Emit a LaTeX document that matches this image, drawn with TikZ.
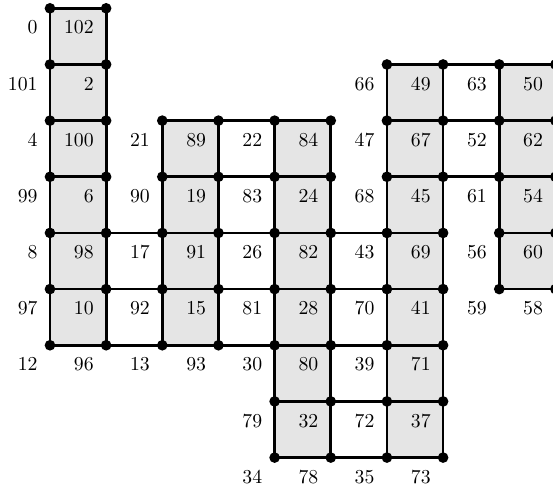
\documentclass[tikz,border=0pt]{standalone}
\begin{document}
\begin{tikzpicture}[x=1cm,y=-1cm,
  cellfill/.style={fill=black!10},
  edge/.style={line width=1.4pt},
  vdot/.style={circle,fill=black,inner sep=0pt,minimum size=5.4pt},
  lab/.style={anchor=base east,inner sep=0pt,font=\fontsize{10}{12}\selectfont}]
\clip (-0.890,-0.148) rectangle (8.957,8.577);
% vertices
\foreach \i in {0,...,9}{\foreach \j in {0,...,8}{\coordinate (v-\i-\j) at (\i,\j);}}
% shaded strips: column/first row/last row
\foreach \c/\a/\b in {0/0/5,2/2/5,4/2/7,6/1/7,8/1/4}{
  \pgfmathtruncatemacro{\cc}{\c+1}
  \pgfmathtruncatemacro{\bb}{\b+1}
  \fill[cellfill] (v-\c-\a) rectangle (v-\cc-\bb);
}
% edges of shaded strips
\foreach \c/\a/\b in {0/0/5,2/2/5,4/2/7,6/1/7,8/1/4}{
  \pgfmathtruncatemacro{\cc}{\c+1}
  \pgfmathtruncatemacro{\bb}{\b+1}
  \draw[edge] (v-\c-\a) -- (v-\c-\bb);
  \draw[edge] (v-\cc-\a) -- (v-\cc-\bb);
  \foreach \r in {\a,...,\bb}{\draw[edge] (v-\c-\r) -- (v-\cc-\r);}
}
% bridging edges across white columns
\foreach \c/\r in {1/4,1/5,1/6,3/2,3/3,3/4,3/5,3/6,5/4,5/5,5/6,5/7,5/8,7/1,7/2,7/3}{
  \pgfmathtruncatemacro{\cc}{\c+1}
  \draw[edge] (v-\c-\r) -- (v-\cc-\r);
}
% dots
\foreach \c/\a/\b in {0/0/5,2/2/5,4/2/7,6/1/7,8/1/4}{
  \pgfmathtruncatemacro{\cc}{\c+1}
  \pgfmathtruncatemacro{\bb}{\b+1}
  \foreach \r in {\a,...,\bb}{
    \node[vdot] (d-\c-\r) at (v-\c-\r) {};
    \node[vdot] (d-\cc-\r) at (v-\cc-\r) {};
  }
}
% labels
\foreach \c/\r/\t in {
 -1/0/0, 0/0/102,
 -1/1/101, 0/1/2, 5/1/66, 6/1/49, 7/1/63, 8/1/50,
 -1/2/4, 0/2/100, 1/2/21, 2/2/89, 3/2/22, 4/2/84, 5/2/47, 6/2/67, 7/2/52, 8/2/62,
 -1/3/99, 0/3/6, 1/3/90, 2/3/19, 3/3/83, 4/3/24, 5/3/68, 6/3/45, 7/3/61, 8/3/54,
 -1/4/8, 0/4/98, 1/4/17, 2/4/91, 3/4/26, 4/4/82, 5/4/43, 6/4/69, 7/4/56, 8/4/60,
 -1/5/97, 0/5/10, 1/5/92, 2/5/15, 3/5/81, 4/5/28, 5/5/70, 6/5/41, 7/5/59, 8/5/58,
 -1/6/12, 0/6/96, 1/6/13, 2/6/93, 3/6/30, 4/6/80, 5/6/39, 6/6/71,
 3/7/79, 4/7/32, 5/7/72, 6/7/37,
 3/8/34, 4/8/78, 5/8/35, 6/8/73}{
  \node[lab] (l\c-\r) at (\c+0.785,\r+0.457) {\t};
}
\end{tikzpicture}
\end{document}
